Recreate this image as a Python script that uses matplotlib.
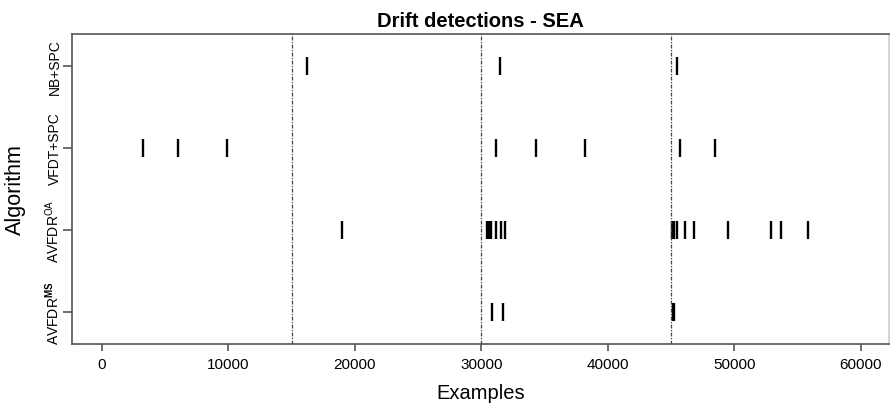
import matplotlib
matplotlib.use('Agg')
import matplotlib.pyplot as plt

# detections per algorithm (example index)
ALGORITHMS = ['AVFDR$^{\\mathbf{MS}}$', 'AVFDR$^{\\mathregular{OA}}$', 'VFDT+SPC', 'NB+SPC']
avfdr_ms = [30820, 31740, 45120, 45230]
avfdr_oa = [18960, 30450, 30600, 30800, 31130, 31530, 31870,
            45100, 45230, 45470, 46100, 46840, 49480, 52910, 53670, 55860]
vfdt_spc = [3270, 6030, 9890, 31180, 34320, 38170, 45730, 48450]
nb_spc = [16210, 31450, 45470]
DRIFT_POINTS = [15000, 30000, 45000]
X_TICKS = [0, 10000, 20000, 30000, 40000, 50000, 60000]

plt.rcParams['font.family'] = ['Liberation Sans', 'DejaVu Sans']
plt.rcParams['mathtext.fontset'] = 'custom'
plt.rcParams['mathtext.rm'] = 'Liberation Sans'
plt.rcParams['mathtext.bf'] = 'Liberation Sans:bold'

fig = plt.figure(figsize=(8.9, 4.06), dpi=100)
ax = fig.add_axes([0.0809, 0.1502, 0.918, 0.7636])

series = [avfdr_ms, avfdr_oa, vfdt_spc, nb_spc]
for i, xs in enumerate(series, start=1):
    ax.plot(xs, [i] * len(xs), linestyle='none', marker='|', ms=13, mew=1.7, color='black')

for d in DRIFT_POINTS:
    ax.axvline(d, color='#444444', linewidth=0.9, linestyle=(0, (3, 1.2, 1, 1.2)))

ax.set_xlim(-2370, 62240)
ax.set_ylim(0.61, 4.39)
ax.set_xticks(X_TICKS)
ax.set_xticklabels([str(t) for t in X_TICKS], fontsize=11)
ax.set_yticks([1, 2, 3, 4])
ax.set_yticklabels(ALGORITHMS, rotation=90, va='center', fontsize=10)

for s in ax.spines.values():
    s.set_color('#555555')
    s.set_linewidth(1.2)
ax.spines['right'].set_color('#cccccc')
ax.tick_params(axis='x', length=5, width=1.2, color='#555555', pad=4)
ax.tick_params(axis='y', length=6.5, width=1.2, color='#555555', pad=1)

ax.set_xlabel('Examples', fontsize=14.5, labelpad=9)
ax.set_ylabel('Algorithm', fontsize=15.5, labelpad=12)
ax.set_title('Drift detections - SEA', fontsize=14.5, fontweight='bold', pad=6)

fig.savefig('out.png', dpi=100)
